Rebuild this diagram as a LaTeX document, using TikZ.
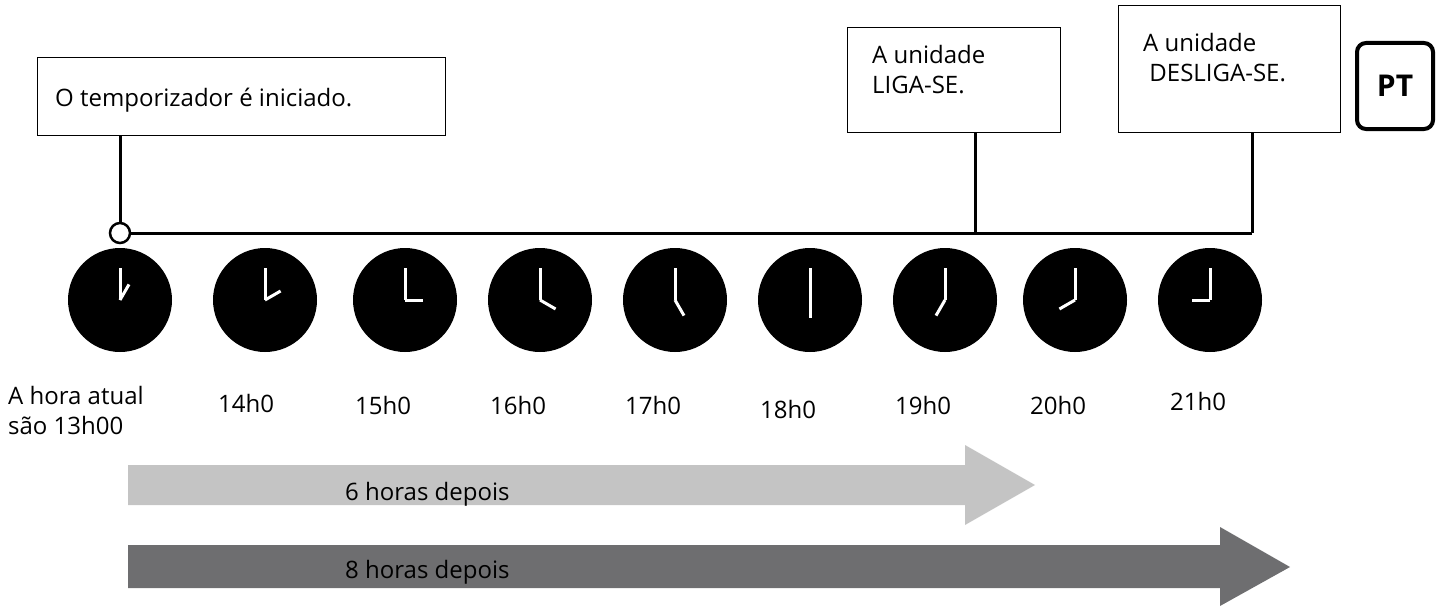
\documentclass[tikz,border=0pt]{standalone}
\usepackage{fontspec}
\setmainfont{Open Sans}
\definecolor{darkarr}{HTML}{6E6E70}
\definecolor{lightarr}{HTML}{C4C4C4}
\begin{document}
\begin{tikzpicture}[x=1pt,y=-1pt,
  lbl/.style={font=\fontsize{24}{30}\selectfont,inner sep=0pt,anchor=base west},
  box/.style={draw,line width=1.4pt},
  conn/.style={line width=3pt},
  face/.style={fill=black},
  hand/.style={white,line width=3pt}]
\useasboundingbox (0,0) rectangle (1442,610);
% boxes
\node[box,minimum width=408,minimum height=78,anchor=north west] (b1) at (37,57) {};
\node[lbl] (t1) at (55,106) {O temporizador é iniciado.};
\node[box,minimum width=213,minimum height=105,anchor=north west] (b2) at (847,27) {};
\node[lbl,align=left,anchor=north west] (t2) at (872,45) {A unidade\\LIGA-SE.};
\node[box,minimum width=222,minimum height=127,anchor=north west] (b3) at (1118,5) {};
\node[lbl,align=left,anchor=north west] (t3) at (1143,33) {A unidade\\\ DESLIGA-SE.};
\node[draw,line width=4pt,rounded corners=9pt,minimum width=76,minimum height=86,font=\fontsize{30}{32}\selectfont\bfseries] (pt) at (1395,86) {PT};
% timeline
\coordinate (c2) at (975,233);
\coordinate (c3) at (1252,233);
\node[circle,draw,line width=2.5pt,fill=white,minimum size=20,inner sep=0] (start) at (120,233) {};
\draw[conn] (start.east) -- (c3);
\draw[conn] (b1.south -| start) -- (start.north);
\draw[conn] (b2.south -| c2) -- (c2);
\draw[conn] (b3.south -| c3) -- (c3);
% clocks
\foreach \x/\h [count=\i] in {120/1,265/2,405/3,540/4,675/5,810/6,945/7,1075/8,1210/9}{
  \node[face,circle,minimum size=104,inner sep=0] (clk\i) at (\x,300) {};
  \draw[hand] (clk\i.center) -- ++(0,-32);
  \draw[hand] (clk\i.center) -- ++({30*\h-90}:18);
}
% labels
\node[lbl,align=left,anchor=north west] (now) at (8,386) {A hora atual\\são 13h00};
\foreach \x/\t/\y in {218/14h0/412,355/15h0/414,490/16h0/414,625/17h0/414,760/18h0/418,895/19h0/414,1030/20h0/414,1170/21h0/410}{
  \node[lbl] at (\x,\y) {\t};
}
% arrows
\fill[lightarr] (128,465) -- (965,465) -- (965,445) -- (1035,485) -- (965,525) -- (965,505) -- (128,505) -- cycle;
\node[lbl] (a6) at (345,500) {6 horas depois};
\fill[darkarr] (128,545) -- (1220,545) -- (1220,527) -- (1290,567) -- (1220,606) -- (1220,588) -- (128,588) -- cycle;
\node[lbl] (a8) at (345,578) {8 horas depois};
\end{tikzpicture}
\end{document}
